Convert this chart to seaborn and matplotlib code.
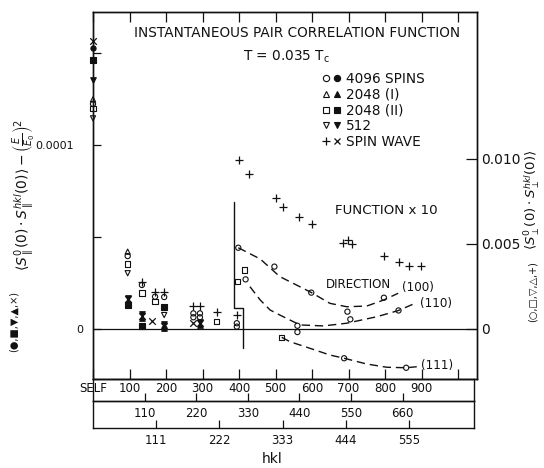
import matplotlib
matplotlib.use("Agg")
import matplotlib.pyplot as plt
import seaborn as sns
from matplotlib.lines import Line2D
from matplotlib.legend_handler import HandlerTuple

# ---------------- data ----------------
# x: neighbour distance in lattice units (100 -> 1, 110 -> 1.41 ...)
# right axis (open symbols and +); points right of the step are "function x 10"
OPEN_CIRCLE_D = [0.0, 0.95, 1.34, 1.70, 1.95, 2.75, 2.75, 2.93, 2.93, 3.94, 3.94,
                 3.98, 4.18, 4.97, 5.60, 5.60, 5.98, 6.97, 7.05, 7.97, 8.37, 6.88, 8.58]
OPEN_CIRCLE_V = [0.01324, 0.00429, 0.00259, 0.00190, 0.00188, 0.00092, 0.00069, 0.00092, 0.00069,
                 0.00034, 0.00014, 0.00478, 0.00292, 0.00367, 0.00019, -0.00018, 0.00214,
                 0.00102, 0.00057, 0.00184, 0.00109, -0.00172, -0.00228]
OPEN_TRI_UP_D = [0.0, 0.95]
OPEN_TRI_UP_V = [0.01351, 0.00455]
OPEN_SQUARE_D = [0.0, 0.95, 1.34, 1.70, 3.39, 3.96, 4.16, 5.17]
OPEN_SQUARE_V = [0.01298, 0.00382, 0.00212, 0.00162, 0.00043, 0.00278, 0.00347, -0.00049]
OPEN_TRI_DOWN_D = [0.0, 0.95, 1.95]
OPEN_TRI_DOWN_V = [0.01239, 0.00328, 0.00082]
PLUS_D = [1.34, 1.70, 1.95, 2.75, 2.93, 3.39, 3.94, 4.01, 4.27, 5.01, 5.20, 5.64, 6.01,
          6.86, 6.99, 7.09, 7.98, 8.38, 8.66, 8.99]
PLUS_V = [0.00278, 0.00219, 0.00219, 0.00138, 0.00138, 0.00102, 0.00082, 0.00994, 0.00910,
          0.00769, 0.00719, 0.00657, 0.00618, 0.00508, 0.00524, 0.00500, 0.00431, 0.00392,
          0.00371, 0.00371]

# left axis (filled symbols and x)
FILL_CIRCLE_D = [0.0, 1.95]
FILL_CIRCLE_V = [1.529e-4, 0.5e-6]
FILL_TRI_UP_D = [0.95, 1.34, 1.95, 2.93]
FILL_TRI_UP_V = [1.52e-5, 5.98e-6, 0.8e-6, 2.2e-6]
FILL_SQUARE_D = [0.0, 0.95, 1.34, 1.95]
FILL_SQUARE_V = [1.462e-4, 1.30e-5, 1.63e-6, 1.21e-5]
FILL_TRI_DOWN_D = [0.0, 0.95, 1.34, 1.95, 2.93]
FILL_TRI_DOWN_V = [1.353e-4, 1.71e-5, 8.15e-6, 2.7e-6, 3.8e-6]
CROSS_D = [0.0, 0.95, 1.34, 1.61, 1.95, 2.75, 2.93]
CROSS_V = [1.567e-4, 1.63e-5, 7.07e-6, 4.6e-6, 1.6e-6, 3.1e-6, 3.0e-6]

# dashed direction curves (right axis, x 10)
CURVE_100_D = [3.98, 4.58, 5.12, 5.97, 6.49, 6.95, 7.50, 7.97, 8.36]
CURVE_100_V = [0.00478, 0.00412, 0.00308, 0.00216, 0.00151, 0.00131, 0.00135, 0.00171, 0.00210]
CURVE_110_D = [4.30, 4.58, 4.85, 5.12, 5.67, 6.31, 6.95, 7.77, 8.36, 8.78]
CURVE_110_V = [0.00249, 0.00171, 0.00112, 0.00082, 0.00024, 0.00018, 0.00034, 0.00072, 0.00108, 0.00147]
CURVE_111_D = [5.17, 5.40, 5.95, 6.49, 6.88, 7.50, 8.05, 8.58, 8.87]
CURVE_111_V = [-0.00049, -0.00075, -0.00114, -0.00153, -0.00172, -0.00206, -0.00225, -0.00228, -0.00222]

# boundary of the "function x 10" region (right axis)
STEP_D = [3.87, 3.87, 4.12, 4.12]
STEP_V = [0.00749, 0.00122, 0.00122, -0.00114]

# tick scales
ROW1_POS = list(range(0, 11))
ROW1_LAB = ["SELF", "100", "200", "300", "400", "500", "600", "700", "800", "900", ""]
ROW2_POS = [1.4142 * n for n in range(1, 7)]
ROW2_LAB = ["110", "220", "330", "440", "550", "660"]
ROW3_POS = [1.7321 * n for n in range(1, 6)]
ROW3_LAB = ["111", "222", "333", "444", "555"]
LEFT_TICKS = [0, 5e-5, 1e-4, 1.5e-4]
LEFT_LABS = ["0", "", "0.0001", ""]
RIGHT_TICKS = [0, 0.005, 0.010]
RIGHT_LABS = ["0", "0.005", "0.010"]

LEGEND_LABELS = ["4096 SPINS", "2048 (I)", "2048 (II)", "512", "SPIN WAVE"]

# ---------------- figure ----------------
sns.set_theme(style="white")
plt.rcParams["font.family"] = ["DejaVu Sans"]
plt.rcParams["mathtext.fontset"] = "dejavusans"
plt.rcParams["axes.edgecolor"] = "black"
INK = "#111111"

W, H = 544, 468
fig = plt.figure(figsize=(W / 100, H / 100), dpi=100)


def fx(x):
    return x / W


def fy(y):
    return 1 - y / H


PXU = 36.5            # px per lattice unit
X0, X1, Y0, Y1 = 93, 477, 12, 379
ZERO = 329
ax = fig.add_axes([fx(X0), fy(Y1), (X1 - X0) / W, (Y1 - Y0) / H])
ax.set_xlim(0, (X1 - X0) / PXU)
ax.set_ylim(-(Y1 - ZERO) / 184 * 1e-4, (ZERO - Y0) / 184 * 1e-4)
ax2 = ax.twinx()
ax2.set_ylim(-(Y1 - ZERO) / 170 * 0.01, (ZERO - Y0) / 170 * 0.01)
for a in (ax, ax2):
    for s in a.spines.values():
        s.set_color(INK)
        s.set_linewidth(1.0)

ax.axhline(0, color=INK, lw=0.9, zorder=1)


def pts(axis, d, v, marker, filled, s):
    kw = dict(x=d, y=v, ax=axis, marker=marker, s=s, color=INK, clip_on=False,
              legend=False, zorder=3, linewidth=0.8)
    if marker in ("+", "x"):
        kw["linewidth"] = 0.9
    else:
        kw["facecolor"] = INK if filled else "none"
        kw["edgecolor"] = INK
    sns.scatterplot(**kw)


pts(ax2, OPEN_CIRCLE_D, OPEN_CIRCLE_V, "o", False, 14)
pts(ax2, OPEN_TRI_UP_D, OPEN_TRI_UP_V, "^", False, 14)
pts(ax2, OPEN_SQUARE_D, OPEN_SQUARE_V, "s", False, 14)
pts(ax2, OPEN_TRI_DOWN_D, OPEN_TRI_DOWN_V, "v", False, 14)
pts(ax2, PLUS_D, PLUS_V, "+", False, 36)
pts(ax, FILL_CIRCLE_D, FILL_CIRCLE_V, "o", True, 14)
pts(ax, FILL_TRI_UP_D, FILL_TRI_UP_V, "^", True, 16)
pts(ax, FILL_SQUARE_D, FILL_SQUARE_V, "s", True, 16)
pts(ax, FILL_TRI_DOWN_D, FILL_TRI_DOWN_V, "v", True, 16)
pts(ax, CROSS_D, CROSS_V, "x", True, 22)

for cd, cv in ((CURVE_100_D, CURVE_100_V), (CURVE_110_D, CURVE_110_V), (CURVE_111_D, CURVE_111_V)):
    sns.lineplot(x=cd, y=cv, ax=ax2, color=INK, lw=1.0, linestyle=(0, (6, 3.5)),
                 sort=False, estimator=None, legend=False)
ax2.plot(STEP_D, STEP_V, color=INK, lw=1.0)

# ticks
ax.set_xticks(ROW1_POS, ROW1_LAB)
ax.tick_params(axis="x", direction="in", length=7, width=0.9, pad=2, labelsize=8.5,
               top=True, bottom=True, labeltop=False, colors=INK)
ax.set_yticks(LEFT_TICKS, LEFT_LABS)
ax.tick_params(axis="y", direction="in", length=6, width=0.9, labelsize=8, colors=INK, left=True)
yt = ax.yaxis.get_major_ticks()
yt[0].set_pad(7)
yt[2].set_pad(14)
ax2.set_yticks(RIGHT_TICKS, RIGHT_LABS)
ax2.tick_params(axis="y", direction="in", length=8, width=0.9, pad=3, labelsize=10,
                colors=INK, right=True)

# bottom scale rows
RB = 474
axA = fig.add_axes([fx(X0), fy(401), (RB - X0) / W, 22 / H])
axB = fig.add_axes([fx(X0), fy(428), (RB - X0) / W, 27 / H])
for a, pos, lab in ((axA, ROW2_POS, ROW2_LAB), (axB, ROW3_POS, ROW3_LAB)):
    a.set_xlim(0, (RB - X0) / PXU)
    a.set_ylim(0, 1)
    a.set_yticks([])
    a.set_xticks(pos, lab)
    a.tick_params(axis="x", direction="in", length=6, width=0.9, pad=4.5, labelsize=8.5,
                  colors=INK, bottom=True)
    a.patch.set_alpha(0)
    for s in a.spines.values():
        s.set_color(INK)
        s.set_linewidth(1.0)

fig.text(fx(272), fy(459), "hkl", ha="center", va="center", fontsize=10, color=INK)

# texts
fig.text(fx(297), fy(33), "INSTANTANEOUS PAIR CORRELATION FUNCTION", ha="center",
         va="center", fontsize=9.8, color=INK)
fig.text(fx(286), fy(57), r"T = 0.035 T$_{\rm c}$", ha="center", va="center",
         fontsize=9.8, color=INK)
fig.text(fx(386), fy(210), "FUNCTION x 10", ha="center", va="center", fontsize=9.6, color=INK)
fig.text(fx(358), fy(284), "DIRECTION", ha="center", va="center", fontsize=8.6, color=INK)
fig.text(fx(402), fy(288), "(100)", ha="left", va="center", fontsize=8.6, color=INK)
fig.text(fx(420), fy(304), "(110)", ha="left", va="center", fontsize=8.6, color=INK)
fig.text(fx(421), fy(365), "(111)", ha="left", va="center", fontsize=8.6, color=INK)

fig.text(fx(23), fy(195),
         r"$\langle S^{0}_{\parallel}(0)\cdot S^{hkl}_{\parallel}(0)\rangle-\left(\frac{E}{E_0}\right)^2$",
         rotation=90, ha="center", va="center", fontsize=10, color=INK)
fig.text(fx(14), fy(322), "(●,■,▼,▲,×)", rotation=90, ha="center", va="center",
         fontsize=7, color=INK)
fig.text(fx(532), fy(200), r"$\langle S^{0}_{\perp}(0)\cdot S^{hkl}_{\perp}(0)\rangle$",
         rotation=90, ha="center", va="center", fontsize=9.5, color=INK)
fig.text(fx(533), fy(292), "(○,□,▽,△,+)", rotation=90, ha="center", va="center",
         fontsize=7, color=INK)

# legend
def mk(marker, filled, ms=4.5):
    if marker in ("+", "x"):
        return Line2D([], [], marker=marker, ls="none", color=INK, ms=ms, mew=0.9)
    return Line2D([], [], marker=marker, ls="none", mec=INK, mfc=INK if filled else "none",
                  ms=ms, mew=0.8)


handles = [(mk("o", False), mk("o", True)), (mk("^", False), mk("^", True)),
           (mk("s", False), mk("s", True)), (mk("v", False), mk("v", True)),
           (mk("+", False, 6), mk("x", True, 5))]
leg = ax2.legend(handles, LEGEND_LABELS, handler_map={tuple: HandlerTuple(ndivide=None, pad=0.2)},
                 loc="upper left", bbox_to_anchor=(fx(322), fy(72)), bbox_transform=fig.transFigure,
                 frameon=False, handlelength=1.4, handletextpad=0.35, labelspacing=0.12,
                 borderpad=0, borderaxespad=0, fontsize=9.8)
for t in leg.get_texts():
    t.set_color(INK)

fig.savefig("out.png", dpi=100)
